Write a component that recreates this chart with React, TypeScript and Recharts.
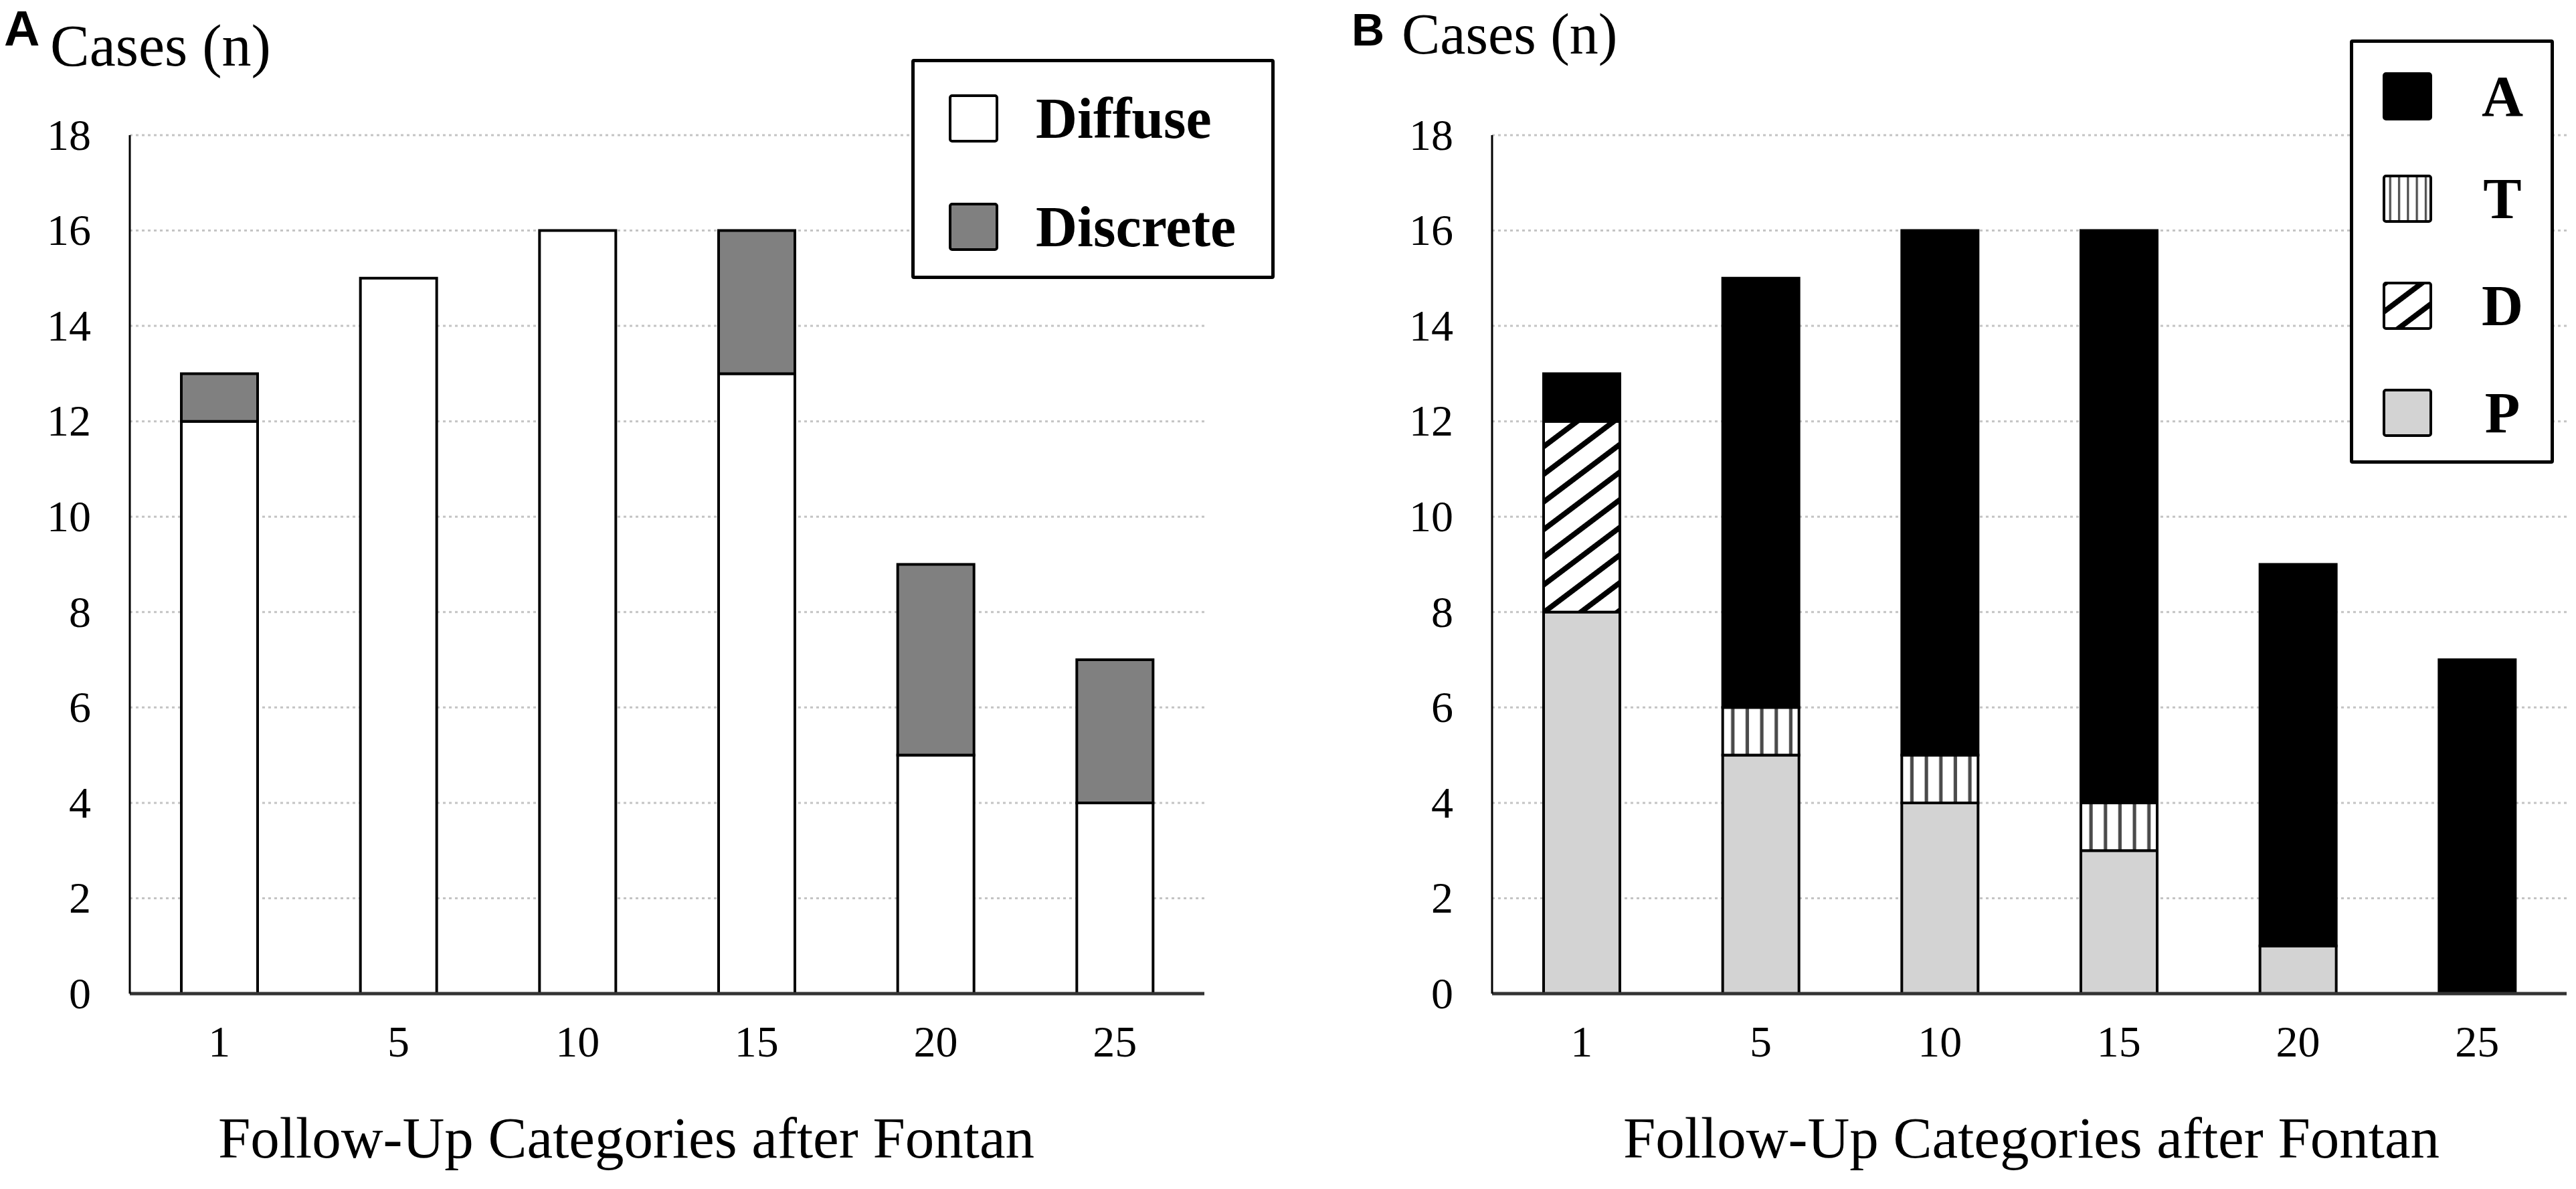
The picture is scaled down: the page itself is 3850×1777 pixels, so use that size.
import React from "react";
import {
  BarChart,
  Bar,
  XAxis,
  YAxis,
  CartesianGrid,
  Legend,
} from "recharts";

const CATEGORIES = ["1", "5", "10", "15", "20", "25"];

// panel A: lesion type
const DIFFUSE = [12, 15, 16, 13, 5, 4];
const DISCRETE = [1, 0, 0, 3, 4, 3];

// panel B: stacked bottom to top P, D, T, A
const P_VALUES = [8, 5, 4, 3, 1, 0];
const D_VALUES = [4, 0, 0, 0, 0, 0];
const T_VALUES = [0, 1, 1, 1, 0, 0];
const A_VALUES = [1, 9, 11, 12, 8, 7];

const Y_TICKS = [0, 2, 4, 6, 8, 10, 12, 14, 16, 18];

const SERIF = "Liberation Serif";
const SANS = "Liberation Sans";

const dataA = CATEGORIES.map((name, i) => ({
  name,
  diffuse: DIFFUSE[i],
  discrete: DISCRETE[i],
}));

const dataB = CATEGORIES.map((name, i) => ({
  name,
  p: P_VALUES[i],
  d: D_VALUES[i],
  t: T_VALUES[i],
  a: A_VALUES[i],
}));

const LEGEND_A = [
  { label: "Diffuse", fill: "#ffffff" },
  { label: "Discrete", fill: "#808080" },
];

const LEGEND_B = [
  { label: "A", fill: "#000000" },
  { label: "T", fill: "url(#stripesT)" },
  { label: "D", fill: "url(#hatchD)" },
  { label: "P", fill: "#d3d3d3" },
];

// serif tick text, same for both axes
function SerifTick(props: any) {
  const { x, y, payload, textAnchor, verticalAnchor } = props;
  const dy = verticalAnchor === "start" ? "0.71em" : "0.33em";
  return (
    <text
      x={x}
      y={y}
      dy={dy}
      textAnchor={textAnchor}
      fontFamily={SERIF}
      fontSize={66}
      fill="#000"
    >
      {payload.value}
    </text>
  );
}

function Swatch({ fill }: { fill: string }) {
  return (
    <svg width={74} height={72} style={{ display: "block" }}>
      <rect x={2} y={2} width={70} height={68} rx={3} fill={fill} stroke="#000" strokeWidth={4} />
    </svg>
  );
}

function LegendA() {
  return (
    <div
      style={{
        position: "relative",
        width: 543,
        height: 329,
        boxSizing: "border-box",
        border: "5px solid #000",
        borderRadius: 4,
        background: "#fff",
      }}
    >
      {LEGEND_A.map((item, i) => (
        <div
          key={item.label}
          style={{
            position: "absolute",
            left: 51,
            top: (i === 0 ? 89 : 251) - 45,
            height: 80,
            display: "flex",
            alignItems: "center",
          }}
        >
          <Swatch fill={item.fill} />
          <span
            style={{
              marginLeft: 56,
              fontFamily: SERIF,
              fontWeight: "bold",
              fontSize: 86,
              lineHeight: 1,
              color: "#000",
            }}
          >
            {item.label}
          </span>
        </div>
      ))}
    </div>
  );
}

function LegendB() {
  const centers = [85, 238, 398, 558];
  return (
    <div
      style={{
        position: "relative",
        width: 305,
        height: 634,
        boxSizing: "border-box",
        border: "5px solid #000",
        borderRadius: 4,
        background: "#fff",
      }}
    >
      {LEGEND_B.map((item, i) => (
        <div
          key={item.label}
          style={{
            position: "absolute",
            left: 44,
            top: centers[i] - 45,
            height: 80,
            display: "flex",
            alignItems: "center",
          }}
        >
          <Swatch fill={item.fill} />
          <span
            style={{
              width: 110,
              marginLeft: 50,
              textAlign: "center",
              fontFamily: SERIF,
              fontWeight: "bold",
              fontSize: 86,
              lineHeight: 1,
              color: "#000",
            }}
          >
            {item.label}
          </span>
        </div>
      ))}
    </div>
  );
}

function PanelA() {
  return (
    <BarChart
      width={1925}
      height={1777}
      data={dataA}
      margin={{ top: 202, right: 125, left: 0, bottom: 0 }}
    >
      <CartesianGrid
        vertical={false}
        stroke="#c4c4c4"
        strokeWidth={3}
        strokeDasharray="4 5"
      />
      <XAxis
        dataKey="name"
        height={292}
        tickLine={false}
        tickSize={0}
        tickMargin={47}
        tick={<SerifTick />}
        axisLine={{ stroke: "#333", strokeWidth: 5 }}
      />
      <YAxis
        width={194}
        domain={[0, 18]}
        ticks={Y_TICKS}
        tickLine={false}
        tickSize={0}
        tickMargin={58}
        tick={<SerifTick />}
        axisLine={{ stroke: "#000", strokeWidth: 3 }}
      />
      <Legend
        layout="horizontal"
        verticalAlign="middle"
        align="center"
        wrapperStyle={{ left: 1362, top: 88, width: 543, height: 329 }}
        content={() => <LegendA />}
      />
      <Bar dataKey="diffuse" stackId="a" barSize={114} fill="#ffffff" stroke="#000" strokeWidth={4} isAnimationActive={false} />
      <Bar dataKey="discrete" stackId="a" barSize={114} fill="#808080" stroke="#000" strokeWidth={4} isAnimationActive={false} />
    </BarChart>
  );
}

function PanelB() {
  return (
    <BarChart
      width={1925}
      height={1777}
      data={dataB}
      margin={{ top: 202, right: 14, left: 0, bottom: 0 }}
    >
      <defs>
        <pattern
          id="stripesT"
          patternUnits="objectBoundingBox"
          patternContentUnits="objectBoundingBox"
          width={0.19}
          height={1}
        >
          <rect x={0} y={0} width={0.19} height={1} fill="#fff" />
          <rect x={0.11} y={0} width={0.045} height={1} fill="#4a4a4a" />
        </pattern>
        <pattern
          id="hatchD"
          patternUnits="userSpaceOnUse"
          width={33}
          height={33}
          patternTransform="rotate(-37)"
        >
          <rect x={0} y={0} width={33} height={33} fill="#fff" />
          <rect x={0} y={0} width={33} height={8} fill="#000" />
        </pattern>
      </defs>
      <CartesianGrid
        vertical={false}
        stroke="#c4c4c4"
        strokeWidth={3}
        strokeDasharray="4 5"
      />
      <XAxis
        dataKey="name"
        height={292}
        tickLine={false}
        tickSize={0}
        tickMargin={47}
        tick={<SerifTick />}
        axisLine={{ stroke: "#333", strokeWidth: 5 }}
      />
      <YAxis
        width={305}
        domain={[0, 18]}
        ticks={Y_TICKS}
        tickLine={false}
        tickSize={0}
        tickMargin={58}
        tick={<SerifTick />}
        axisLine={{ stroke: "#000", strokeWidth: 3 }}
      />
      <Legend
        layout="horizontal"
        verticalAlign="middle"
        align="center"
        wrapperStyle={{ left: 1587, top: 59, width: 305, height: 634 }}
        content={() => <LegendB />}
      />
      <Bar dataKey="p" stackId="b" barSize={114} fill="#d3d3d3" stroke="#000" strokeWidth={4} isAnimationActive={false} />
      <Bar dataKey="d" stackId="b" barSize={114} fill="url(#hatchD)" stroke="#000" strokeWidth={4} isAnimationActive={false} />
      <Bar dataKey="t" stackId="b" barSize={114} fill="url(#stripesT)" stroke="#000" strokeWidth={4} isAnimationActive={false} />
      <Bar dataKey="a" stackId="b" barSize={114} fill="#000000" stroke="#000" strokeWidth={4} isAnimationActive={false} />
    </BarChart>
  );
}

export default function App() {
  return (
    <div
      style={{
        position: "absolute",
        left: 0,
        top: 0,
        width: 3850,
        height: 1777,
        background: "#fff",
        overflow: "hidden",
      }}
    >
      <div style={{ position: "absolute", left: 0, top: 0 }}>
        <PanelA />
      </div>
      <div style={{ position: "absolute", left: 1925, top: 0 }}>
        <PanelB />
      </div>
      <svg
        width={3850}
        height={1777}
        style={{ position: "absolute", left: 0, top: 0, pointerEvents: "none" }}
      >
        <text x={6} y={68} fontFamily={SANS} fontWeight="bold" fontSize={74} fill="#000">A</text>
        <text x={75} y={98} fontFamily={SERIF} fontSize={88} fill="#000">Cases (n)</text>
        <text x={2020} y={68} fontFamily={SANS} fontWeight="bold" fontSize={68} fill="#000">B</text>
        <text x={2095} y={80} fontFamily={SERIF} fontSize={86} fill="#000">Cases (n)</text>
        <text x={936} y={1730} textAnchor="middle" fontFamily={SERIF} fontSize={87} fill="#000">
          Follow-Up Categories after Fontan
        </text>
        <text x={3036} y={1730} textAnchor="middle" fontFamily={SERIF} fontSize={87} fill="#000">
          Follow-Up Categories after Fontan
        </text>
      </svg>
    </div>
  );
}
